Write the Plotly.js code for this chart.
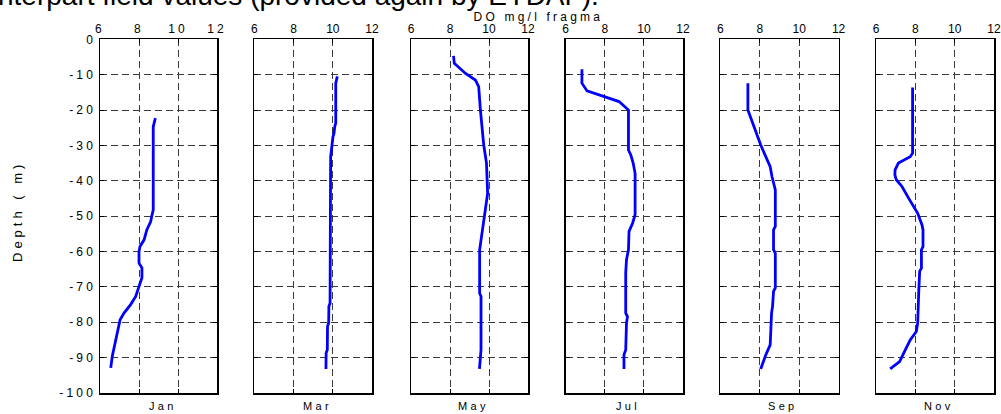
<!DOCTYPE html>
<html>
<head>
<meta charset="utf-8">
<script src="https://cdn.plot.ly/plotly-3.0.1.min.js"></script>
<style>
  html, body { margin: 0; padding: 0; background: #fff; }
  #chart { width: 1001px; height: 414px; }
  .xtick text, .ytick text { letter-spacing: 3.2px; }
  .annotation[data-index="1"] text { letter-spacing: 3.2px; }
  .annotation[data-index="2"] text { letter-spacing: 4px; }
  .annotation[data-index="3"] text, .annotation[data-index="4"] text,
  .annotation[data-index="5"] text, .annotation[data-index="6"] text,
  .annotation[data-index="7"] text, .annotation[data-index="8"] text { letter-spacing: 3.3px; }
</style>
</head>
<body>
<div id="chart"></div>
<script>
// ---- data ----
const months = ["Jan", "Mar", "May", "Jul", "Sep", "Nov"];
const xTickVals = [6, 8, 10, 12];
const yTickVals = [0, -10, -20, -30, -40, -50, -60, -70, -80, -90, -100];

const janDepth = [-22.3, -24.7, -30, -40, -48.2, -50.1, -51.5, -53.9, -56.7, -58.6, -60, -63.3, -64.6, -67.4, -69.9, -72.7, -75, -77.4, -79.3, -83, -86.8, -89.6, -92.9];
const janDO    = [8.84, 8.73, 8.73, 8.73, 8.73, 8.65, 8.6, 8.4, 8.26, 8.05, 8.0, 8.0, 8.15, 8.15, 8.0, 7.83, 7.57, 7.23, 7.03, 6.89, 6.77, 6.63, 6.55];

const marDepth = [-10.5, -12.4, -23.7, -24.7, -26.6, -27.5, -33.2, -50, -74.6, -75.5, -80.2, -81.2, -87.8, -88.7, -93.2];
const marDO    = [10.23, 10.15, 10.15, 10.1, 10.06, 10.01, 9.89, 9.87, 9.86, 9.8, 9.79, 9.73, 9.72, 9.66, 9.65];

const mayDepth = [-4.7, -6.8, -7.5, -9.6, -11.5, -13.4, -20, -24.7, -29.9, -35, -40.2, -43.5, -45.9, -50.1, -54.8, -57.6, -59.5, -71.8, -72.7, -87.8, -89.2, -93.2];
const mayDO    = [8.18, 8.22, 8.36, 8.78, 9.3, 9.47, 9.56, 9.64, 9.73, 9.87, 9.93, 9.93, 9.87, 9.76, 9.66, 9.56, 9.52, 9.52, 9.59, 9.59, 9.56, 9.51];

const julDepth = [-8.5, -12.4, -14.6, -17.6, -20, -31.3, -32.7, -35, -37.9, -49.6, -52, -54.3, -59.5, -62.3, -66.1, -77.4, -78.4, -80.2, -87.8, -89.2, -93.2];
const julDO    = [6.83, 6.83, 7.09, 8.73, 9.21, 9.21, 9.33, 9.45, 9.55, 9.55, 9.42, 9.24, 9.21, 9.11, 9.07, 9.07, 9.16, 9.11, 9.07, 8.98, 8.98];

const sepDepth = [-12.4, -20, -29.9, -36, -38.8, -41.6, -42.6, -52.9, -53.9, -59.5, -60.5, -70.3, -71.3, -75.5, -77.4, -82.6, -86.4, -89.2, -93.2];
const sepDO    = [7.4, 7.4, 8.05, 8.53, 8.62, 8.73, 8.79, 8.79, 8.7, 8.7, 8.79, 8.79, 8.7, 8.65, 8.6, 8.56, 8.53, 8.31, 8.05];

const novDepth = [-13.6, -32.2, -33.2, -35, -36.9, -38.3, -39.7, -41.6, -45.4, -49.2, -52.5, -53.9, -58.6, -59.5, -64.7, -65.6, -71.8, -80.2, -82.6, -85, -87.8, -91.1, -93.2];
const novDO    = [7.86, 7.86, 7.74, 7.14, 6.97, 6.96, 7.03, 7.32, 7.71, 8.12, 8.34, 8.39, 8.39, 8.31, 8.31, 8.22, 8.17, 8.12, 8.05, 7.74, 7.49, 7.2, 6.72];

const profilesDO = [janDO, marDO, mayDO, julDO, sepDO, novDO];
const profilesDepth = [janDepth, marDepth, mayDepth, julDepth, sepDepth, novDepth];

const topTitle = "nterpart field values (provided again by EYDAF).";
const xLabel = "DO mg/l fragma";
const yLabel = "Depth ( m)";

// ---- layout geometry (pixels) ----
const W = 1001, H = 414;
const panelLeft  = [100, 254.4, 411, 565.7, 720.3, 876];
const panelRight = [217, 372, 528, 683, 838.6, 994];
const plotTop = 39.3, plotBottom = 393;

const font = "Liberation Sans, Arial, Helvetica, sans-serif";
const gridDash = "7px,4px";

const traces = [];
const layout = {
  width: W, height: H,
  margin: {l: 0, r: 0, t: 0, b: 0, pad: 0},
  paper_bgcolor: "#ffffff",
  plot_bgcolor: "#ffffff",
  showlegend: false,
  font: {family: font, size: 12, color: "#000"},
  annotations: []
};

for (let i = 0; i < months.length; i++) {
  const n = i === 0 ? "" : String(i + 1);
  traces.push({
    type: "scatter", mode: "lines",
    x: profilesDO[i], y: profilesDepth[i],
    xaxis: "x" + n, yaxis: "y" + n,
    line: {color: "#0000ff", width: 2.8},
    hoverinfo: "skip"
  });
  layout["xaxis" + n] = {
    domain: [panelLeft[i] / W, panelRight[i] / W],
    anchor: "y" + n,
    side: "top",
    range: [6, 12],
    tickmode: "array", tickvals: xTickVals, ticktext: xTickVals.map(String),
    ticks: "inside", ticklen: 4, tickwidth: 1, tickcolor: "#000",
    showline: true, linecolor: "#000", linewidth: 1.5, mirror: "ticks",
    showgrid: true, gridcolor: "#3a3a3a", gridwidth: 1, griddash: gridDash,
    zeroline: false, fixedrange: true,
    tickfont: {family: font, size: 12, color: "#000"}
  };
  layout["yaxis" + n] = {
    domain: [1 - plotBottom / H, 1 - plotTop / H],
    anchor: "x" + n,
    range: [-100, 0],
    tickmode: "array", tickvals: yTickVals, ticktext: yTickVals.map(String),
    showticklabels: i === 0,
    ticks: "inside", ticklen: 4, tickwidth: 1, tickcolor: "#000",
    showline: true, linecolor: "#000", linewidth: 1.5, mirror: "ticks",
    showgrid: true, gridcolor: "#3a3a3a", gridwidth: 1, griddash: gridDash,
    zeroline: false, fixedrange: true,
    tickfont: {family: font, size: 12, color: "#000"}
  };
}

// annotation 0: cropped document text at the very top
layout.annotations.push({
  text: topTitle, xref: "paper", yref: "paper",
  x: -4 / W, y: 1 + 4 / H, xanchor: "left", yanchor: "middle",
  showarrow: false, font: {family: font, size: 28, color: "#000"}
});
// annotation 1: x label
layout.annotations.push({
  text: xLabel, xref: "paper", yref: "paper",
  x: 538 / W, y: 1 - 17.5 / H, xanchor: "center", yanchor: "middle",
  showarrow: false, font: {family: font, size: 12, color: "#000"}
});
// annotation 2: y label
layout.annotations.push({
  text: yLabel, xref: "paper", yref: "paper",
  x: 17 / W, y: 1 - 212 / H, xanchor: "center", yanchor: "middle",
  textangle: -90,
  showarrow: false, font: {family: font, size: 13, color: "#000"}
});
// annotations 3..8: month labels
for (let i = 0; i < months.length; i++) {
  layout.annotations.push({
    text: months[i], xref: "paper", yref: "paper",
    x: ((panelLeft[i] + panelRight[i]) / 2 + 4) / W, y: 1 - 406 / H,
    xanchor: "center", yanchor: "middle",
    showarrow: false, font: {family: font, size: 11, color: "#000"}
  });
}

Plotly.newPlot("chart", traces, layout, {staticPlot: true, displayModeBar: false});
</script>
</body>
</html>
